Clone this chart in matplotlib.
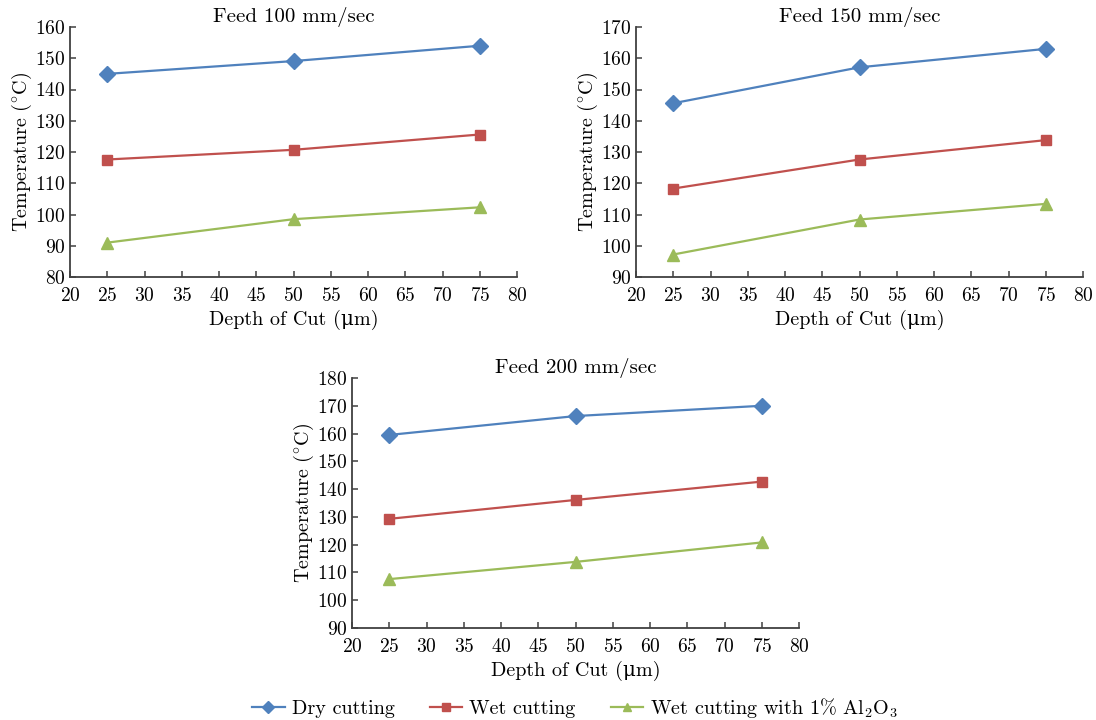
import numpy as np
import matplotlib
matplotlib.use('Agg')
from matplotlib import pyplot as plt

# data
depth = [25, 50, 75]  # depth of cut (um)
titles = ['Feed 100 mm/sec', 'Feed 150 mm/sec', 'Feed 200 mm/sec']
dry_cutting = [[145.0, 149.1, 154.0], [145.6, 157.1, 163.0], [159.5, 166.3, 170.0]]
wet_cutting = [[117.6, 120.7, 125.6], [118.3, 127.6, 133.8], [129.3, 136.1, 142.7]]
wet_al2o3 = [[91.0, 98.5, 102.3], [97.2, 108.4, 113.4], [107.6, 113.8, 120.8]]
ylims = [(80, 160), (90, 170), (90, 180)]
series_names = ['Dry cutting', 'Wet cutting', r'Wet cutting with 1% Al$_2$O$_3$']

plt.rcParams['font.family'] = ['cmr10', 'DejaVu Serif']
plt.rcParams['mathtext.fontset'] = 'cm'
plt.rcParams['axes.formatter.use_mathtext'] = True
plt.rcParams['font.size'] = 14

colors = ['#4F81BD', '#C0504D', '#9BBB59']
markers = ['D', 's', '^']
msizes = [8, 7, 8.5]
spine_col = '#404040'

fig = plt.figure(figsize=(10.96, 7.2), dpi=100)
W, H = 1096.0, 720.0
boxes = [(70, 27), (636, 27), (352, 378)]  # left, top in pixels
aw, ah = 447, 250

lines = []
for k in range(3):
    left, top = boxes[k]
    ax = fig.add_axes([left / W, (H - top - ah) / H, aw / W, ah / H])
    data = [dry_cutting[k], wet_cutting[k], wet_al2o3[k]]
    lines = []
    for i in range(3):
        ln, = ax.plot(depth, data[i], color=colors[i], marker=markers[i],
                      ms=msizes[i], lw=1.6, label=series_names[i])
        lines.append(ln)
    ax.set_xlim(20, 80)
    ax.set_ylim(*ylims[k])
    ax.set_xticks(np.arange(20, 81, 5))
    ax.set_yticks(np.arange(ylims[k][0], ylims[k][1] + 1, 10))
    ax.spines['top'].set_visible(False)
    ax.spines['right'].set_visible(False)
    for s in ['left', 'bottom']:
        ax.spines[s].set_color(spine_col)
        ax.spines[s].set_linewidth(1.3)
    ax.tick_params(direction='in', length=4, width=1.1, color=spine_col,
                   labelsize=14)
    ax.tick_params(axis='x', pad=7)
    ax.tick_params(axis='y', pad=3)
    ax.set_title(titles[k], fontsize=15, pad=0)
    ax.set_xlabel('Depth of Cut (\u03bcm)', fontsize=14.5, labelpad=4)
    ax.set_ylabel(r'Temperature ($^{\circ}$C)', fontsize=14.5, labelpad=1)

fig.legend(handles=lines, loc='center', bbox_to_anchor=(0.5246, 0.016),
           ncol=3, frameon=False, fontsize=14.5, handlelength=1.6,
           columnspacing=1.75, handletextpad=0.35, markerscale=0.75)

fig.savefig('out.png', dpi=100)
